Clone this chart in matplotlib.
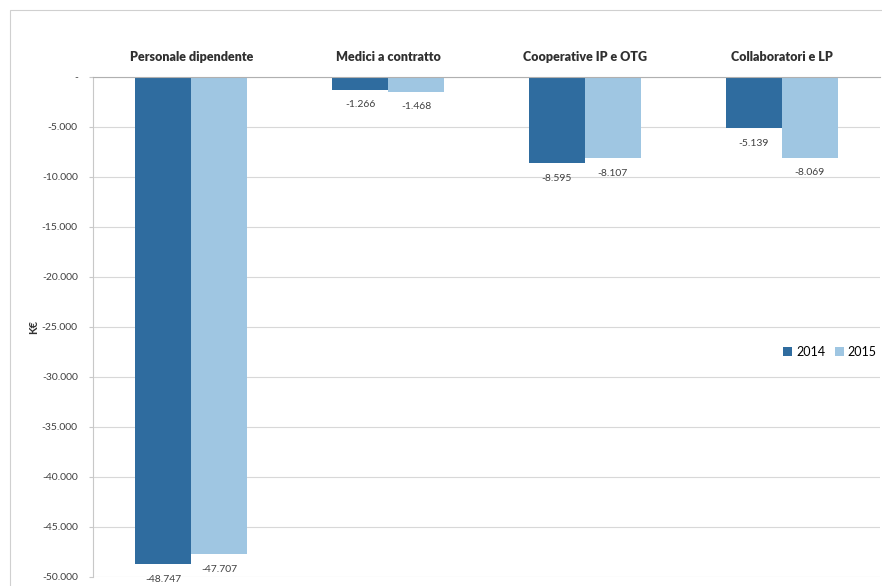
import matplotlib
matplotlib.use('Agg')
import matplotlib.pyplot as plt
import matplotlib.patches as patches
import matplotlib.transforms as transforms
import numpy as np

plt.rcParams['font.family'] = ['Lato', 'DejaVu Sans']

categorie = ['Personale dipendente', 'Medici a contratto', 'Cooperative IP e OTG', 'Collaboratori e LP']
valori_2014 = [-48747, -1266, -8595, -5139]
valori_2015 = [-47707, -1468, -8107, -8069]
etichette_2014 = ['-48.747', '-1.266', '-8.595', '-5.139']
etichette_2015 = ['-47.707', '-1.468', '-8.107', '-8.069']
tick_y = [0, -5000, -10000, -15000, -20000, -25000, -30000, -35000, -40000, -45000, -50000]
tick_lab = ['-', '-5.000', '-10.000', '-15.000', '-20.000', '-25.000', '-30.000',
            '-35.000', '-40.000', '-45.000', '-50.000']

col_2014 = '#2f6c9f'
col_2015 = '#9fc6e2'

fig = plt.figure(figsize=(8.82, 5.86), dpi=100)
fig.patch.set_facecolor('white')
# cornice esterna
bordo = patches.Rectangle((10 / 882, -0.05), 1.0, 1 - 10 / 586 + 0.05,
                          transform=fig.transFigure, fill=False,
                          edgecolor='#d0d0d0', linewidth=0.8)
fig.patches.append(bordo)

ax = fig.add_axes([93 / 882, 1 - 577 / 586, (880 - 93) / 882, 500 / 586])

x = np.arange(len(categorie))
w = 0.285
ax.bar(x - w / 2, valori_2014, w, color=col_2014, label='2014')
ax.bar(x + w / 2, valori_2015, w, color=col_2015, label='2015')

for xi, v, t in zip(x - w / 2, valori_2014, etichette_2014):
    ax.annotate(t, (xi, v), xytext=(0, -11), textcoords='offset points',
                ha='center', va='center', fontsize=7.5, color='#404040')
for xi, v, t in zip(x + w / 2, valori_2015, etichette_2015):
    ax.annotate(t, (xi, v), xytext=(0, -11), textcoords='offset points',
                ha='center', va='center', fontsize=7.5, color='#404040')

trans = transforms.blended_transform_factory(ax.transData, ax.transAxes)
for xi, c in zip(x, categorie):
    ax.text(xi, 1.04, c, transform=trans, ha='center', va='center',
            fontsize=9, fontweight='heavy', color='#303030')

ax.set_xlim(-0.5, len(categorie) - 0.5)
ax.set_ylim(-50000, 0)
ax.set_yticks(tick_y)
ax.set_yticklabels(tick_lab, fontsize=7.5, color='#404040')
ax.set_xticks([])
ax.grid(axis='y', color='#d8d8d8', linewidth=0.8)
ax.set_axisbelow(True)
for s in ['right', 'bottom']:
    ax.spines[s].set_visible(False)
ax.spines['top'].set_color('#b0b0b0')
ax.spines['left'].set_color('#c8c8c8')
ax.tick_params(axis='y', length=3, color='#c8c8c8', pad=8)

ax.set_ylabel('K€', fontsize=8, fontweight='bold', color='#303030', labelpad=2)

ax.legend(loc='center right', bbox_to_anchor=(1.01, 0.45), frameon=False,
          fontsize=9, ncol=2, handlelength=0.7, handleheight=0.7,
          columnspacing=0.8, handletextpad=0.3)

fig.savefig('out.png', dpi=100)
